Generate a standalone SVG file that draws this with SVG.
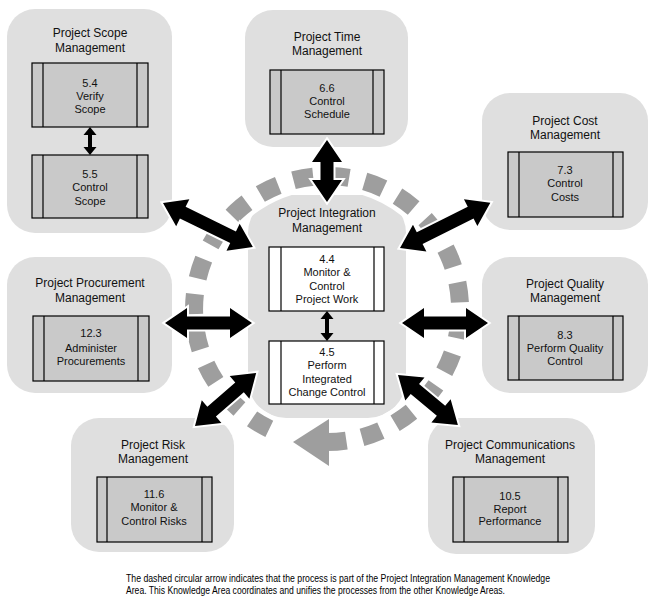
<svg xmlns="http://www.w3.org/2000/svg" width="653" height="604" viewBox="0 0 653 604">
<style>
.area{fill:#dfdfdf}
.proc{fill:#c9c9c9;stroke:#000;stroke-width:1.2}
.procw{fill:#fff;stroke:#000;stroke-width:1.2}
.bar{stroke:#000;stroke-width:1.2}
.t{font-family:"Liberation Sans",Arial,sans-serif;font-size:12px;fill:#111;text-anchor:middle}
.p{font-family:"Liberation Sans",Arial,sans-serif;font-size:11px;fill:#111;text-anchor:middle}
.big{fill:#000;stroke:#fff;stroke-width:4;paint-order:stroke;stroke-linejoin:miter}
.small{fill:#000}
.cap{font-family:"Liberation Sans",Arial,sans-serif;font-size:10px;fill:#000}
</style>
<rect width="653" height="604" fill="#fff"/>

<g id="scope">
<rect class="area" x="7" y="9" width="165" height="224" rx="28"/>
<text class="t" x="90" y="37">Project Scope</text>
<text class="t" x="90" y="52">Management</text>
<g id="p5-4"><rect class="proc" x="32" y="63" width="116" height="64"/><line class="bar" x1="43" y1="63" x2="43" y2="127"/><line class="bar" x1="137" y1="63" x2="137" y2="127"/>
<text class="p" x="90" y="87">5.4</text><text class="p" x="90" y="100">Verify</text><text class="p" x="90" y="113">Scope</text></g>
<g id="p5-5"><rect class="proc" x="32" y="155" width="116" height="63"/><line class="bar" x1="43" y1="155" x2="43" y2="218"/><line class="bar" x1="137" y1="155" x2="137" y2="218"/>
<text class="p" x="90" y="178">5.5</text><text class="p" x="90" y="191">Control</text><text class="p" x="90" y="205">Scope</text></g>
</g>

<g id="time">
<rect class="area" x="245" y="10" width="163" height="137" rx="28"/>
<text class="t" x="327" y="41">Project Time</text>
<text class="t" x="327" y="55">Management</text>
<g id="p6-6"><rect class="proc" x="270" y="70" width="114" height="64"/><line class="bar" x1="281" y1="70" x2="281" y2="134"/><line class="bar" x1="373" y1="70" x2="373" y2="134"/>
<text class="p" x="327" y="92">6.6</text><text class="p" x="327" y="105">Control</text><text class="p" x="327" y="118">Schedule</text></g>
</g>

<g id="cost">
<rect class="area" x="482" y="93" width="166" height="137" rx="28"/>
<text class="t" x="565" y="125">Project Cost</text>
<text class="t" x="565" y="139">Management</text>
<g id="p7-3"><rect class="proc" x="508" y="152" width="115" height="65"/><line class="bar" x1="519" y1="152" x2="519" y2="217"/><line class="bar" x1="613" y1="152" x2="613" y2="217"/>
<text class="p" x="565" y="174">7.3</text><text class="p" x="565" y="187">Control</text><text class="p" x="565" y="201">Costs</text></g>
</g>

<g id="quality">
<rect class="area" x="482" y="257" width="166" height="136" rx="28"/>
<text class="t" x="565" y="288">Project Quality</text>
<text class="t" x="565" y="302">Management</text>
<g id="p8-3"><rect class="proc" x="508" y="316" width="115" height="64"/><line class="bar" x1="519" y1="316" x2="519" y2="380"/><line class="bar" x1="613" y1="316" x2="613" y2="380"/>
<text class="p" x="565" y="339">8.3</text><text class="p" x="565" y="352">Perform Quality</text><text class="p" x="565" y="365">Control</text></g>
</g>

<g id="procurement">
<rect class="area" x="7" y="257" width="165" height="136" rx="28"/>
<text class="t" x="90" y="287">Project Procurement</text>
<text class="t" x="90" y="302">Management</text>
<g id="p12-3"><rect class="proc" x="33" y="316" width="116" height="65"/><line class="bar" x1="44" y1="316" x2="44" y2="381"/><line class="bar" x1="138" y1="316" x2="138" y2="381"/>
<text class="p" x="91" y="337">12.3</text><text class="p" x="91" y="352">Administer</text><text class="p" x="91" y="365">Procurements</text></g>
</g>

<g id="risk">
<rect class="area" x="71" y="418" width="163" height="134" rx="28"/>
<text class="t" x="153" y="449">Project Risk</text>
<text class="t" x="153" y="463">Management</text>
<g id="p11-6"><rect class="proc" x="97" y="477" width="115" height="65"/><line class="bar" x1="107" y1="477" x2="107" y2="542"/><line class="bar" x1="202" y1="477" x2="202" y2="542"/>
<text class="p" x="154" y="498">11.6</text><text class="p" x="154" y="511">Monitor &amp;</text><text class="p" x="154" y="525">Control Risks</text></g>
</g>

<g id="communications">
<rect class="area" x="428" y="418" width="167" height="136" rx="28"/>
<text class="t" x="510" y="449">Project Communications</text>
<text class="t" x="510" y="463">Management</text>
<g id="p10-5"><rect class="proc" x="453" y="477" width="115" height="65"/><line class="bar" x1="464" y1="477" x2="464" y2="542"/><line class="bar" x1="558" y1="477" x2="558" y2="542"/>
<text class="p" x="510" y="500">10.5</text><text class="p" x="510" y="513">Report</text><text class="p" x="510" y="525">Performance</text></g>
</g>

<g id="integration">
<rect class="area" x="248" y="195" width="158" height="223" rx="38"/>
<text class="t" x="327" y="217">Project Integration</text>
<text class="t" x="327" y="232">Management</text>
<g id="p4-4"><rect class="procw" x="269" y="247" width="115" height="64"/><line class="bar" x1="281" y1="247" x2="281" y2="311"/><line class="bar" x1="374" y1="247" x2="374" y2="311"/>
<text class="p" x="327" y="263">4.4</text><text class="p" x="327" y="276">Monitor &amp;</text><text class="p" x="327" y="290">Control</text><text class="p" x="327" y="303">Project Work</text></g>
<g id="p4-5"><rect class="procw" x="269" y="341" width="115" height="63"/><line class="bar" x1="281" y1="341" x2="281" y2="404"/><line class="bar" x1="374" y1="341" x2="374" y2="404"/>
<text class="p" x="327" y="356">4.5</text><text class="p" x="327" y="369">Perform</text><text class="p" x="327" y="383">Integrated</text><text class="p" x="327" y="396">Change Control</text></g>
</g>

<g id="cycle">
<circle cx="327" cy="309" r="133" fill="none" stroke="#fff" stroke-width="27"/>
<path d="M269.3 428.8 A133 133 0 1 1 327 442" fill="none" stroke="#9e9e9e" stroke-width="18" stroke-dasharray="20 16"/>
<polygon points="293,442 329,419 329,466" fill="#9e9e9e"/>
</g>

<g id="connectors">
<polygon class="big" transform="translate(163,203) rotate(26.05)" points="0,0 22,-15 22,-6.5 78,-6.5 78,-15 100,0 78,15 78,6.5 22,6.5 22,15"/>
<polygon class="big" transform="translate(327,140) rotate(90)" points="0,0 22,-15 22,-6.5 40,-6.5 40,-15 62,0 40,15 40,6.5 22,6.5 22,15"/>
<polygon class="big" transform="translate(400,248) rotate(-26.57)" points="0,0 22,-15 22,-6.5 79,-6.5 79,-15 101,0 79,15 79,6.5 22,6.5 22,15"/>
<polygon class="big" transform="translate(165,323)" points="0,0 22,-15 22,-6.5 65,-6.5 65,-15 87,0 65,15 65,6.5 22,6.5 22,15"/>
<polygon class="big" transform="translate(402,323)" points="0,0 22,-15 22,-6.5 64,-6.5 64,-15 86,0 64,15 64,6.5 22,6.5 22,15"/>
<polygon class="big" transform="translate(195,426) rotate(-40.98)" points="0,0 22,-15 22,-6.5 59,-6.5 59,-15 81,0 59,15 59,6.5 22,6.5 22,15"/>
<polygon class="big" transform="translate(398,375) rotate(39.81)" points="0,0 22,-15 22,-6.5 56,-6.5 56,-15 78,0 56,15 56,6.5 22,6.5 22,15"/>
<polygon class="small" transform="translate(90,127) rotate(90)" points="0,0 8,-6.5 8,-2 20,-2 20,-6.5 28,0 20,6.5 20,2 8,2 8,6.5"/>
<polygon class="small" transform="translate(327,311) rotate(90)" points="0,0 8,-6.5 8,-2 22,-2 22,-6.5 30,0 22,6.5 22,2 8,2 8,6.5"/>
</g>

<g id="caption">
<text class="cap" x="126" y="582" textLength="424" lengthAdjust="spacingAndGlyphs">The dashed circular arrow indicates that the process is part of the Project Integration Management Knowledge</text>
<text class="cap" x="126" y="594" textLength="379" lengthAdjust="spacingAndGlyphs">Area. This Knowledge Area coordinates and unifies the processes from the other Knowledge Areas.</text>
</g>
</svg>
